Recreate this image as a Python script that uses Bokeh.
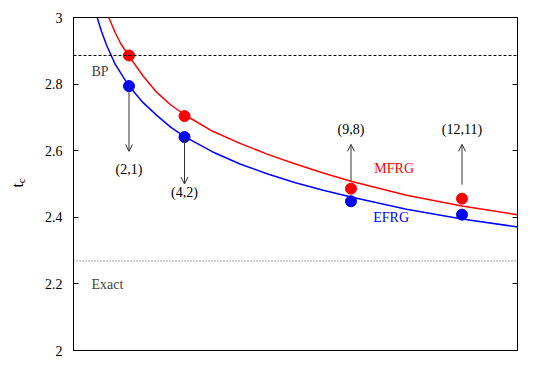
from bokeh.plotting import figure
from bokeh.layouts import row
from bokeh.models import (FixedTicker, LinearAxis, Label, Arrow, OpenHead, Span, Range1d)
from bokeh.embed import file_html
from bokeh.resources import INLINE
import math

# ---- data ----
cluster_x = [1, 2, 5, 7]
cluster_labels = ["(2,1)", "(4,2)", "(9,8)", "(12,11)"]
mfrg_tc = [2.886, 2.704, 2.486, 2.456]
efrg_tc = [2.794, 2.641, 2.448, 2.408]

# fitted curves
mfrg_fit_x = [0.636, 0.75, 0.85, 1.0, 1.25, 1.5, 1.75, 2.0, 2.5, 3.0, 3.5,
              4.0, 4.5, 5.0, 5.5, 6.0, 7.0, 8.0]
mfrg_fit_y = [3.000, 2.955, 2.922, 2.884, 2.825, 2.775, 2.738, 2.708, 2.659,
              2.622, 2.589, 2.560, 2.533, 2.508, 2.487, 2.466, 2.434, 2.408]
efrg_fit_x = [0.427, 0.5, 0.6, 0.75, 1.0, 1.25, 1.5, 1.75, 2.0, 2.5, 3.0, 3.5,
              4.0, 4.5, 5.0, 6.0, 7.0, 8.0]
efrg_fit_y = [3.000, 2.960, 2.915, 2.860, 2.794, 2.745, 2.706, 2.671, 2.642,
              2.597, 2.560, 2.530, 2.504, 2.481, 2.461, 2.424, 2.395, 2.371]

bp_tc = 2.886
exact_tc = 2.269
y_ticks = [2.0, 2.2, 2.4, 2.6, 2.8, 3.0]
y_tick_labels = ["2", "2.2", "2.4", "2.6", "2.8", "3"]

arrow_start = [2.790, 2.636, 2.509, 2.498]
arrow_end = [2.598, 2.500, 2.619, 2.619]
label_y = [2.545, 2.475, 2.664, 2.664]

FONT = "Liberation Serif"
H = 373
LW = 30

# ---- narrow panel carrying the rotated y title t_c ----
lab = figure(width=LW, height=H, x_range=Range1d(0, LW), y_range=Range1d(0, H),
             output_backend="svg", toolbar_location=None,
             x_axis_location=None, y_axis_location=None,
             min_border_left=0, min_border_right=0, min_border_top=0,
             min_border_bottom=0)
lab.outline_line_color = None
lab.grid.visible = False
lab.text(x=[17], y=[H - 188], text=["t"], angle=math.pi / 2, text_align="center",
         text_baseline="alphabetic", text_font={"value": FONT},
         text_font_size="16px", text_color="black")
lab.text(x=[20.5], y=[H - 183], text=["c"], angle=math.pi / 2, text_align="center",
         text_baseline="alphabetic", text_font={"value": FONT},
         text_font_size="11px", text_color="black")

# ---- main plot ----
p = figure(width=537 - LW, height=H, x_range=Range1d(0, 8), y_range=Range1d(2, 3),
           output_backend="svg", toolbar_location=None, x_axis_location=None,
           min_border_left=73 - LW, min_border_right=20, min_border_top=17,
           min_border_bottom=23)
p.grid.visible = False
p.outline_line_color = "black"
p.outline_line_width = 1
p.outline_line_alpha = 1

ax = p.yaxis[0]
ax.ticker = FixedTicker(ticks=y_ticks)
ax.major_label_overrides = {t: l for t, l in zip(y_ticks, y_tick_labels)}
ax.major_tick_in = 5
ax.major_tick_out = 0
ax.minor_tick_line_color = None
ax.major_label_standoff = 11
ax.major_label_text_font = FONT
ax.major_label_text_font_size = "14px"
ax.major_label_text_color = "black"
ax.axis_line_color = "black"

rax = LinearAxis(ticker=FixedTicker(ticks=y_ticks),
                 major_label_overrides={t: "" for t in y_ticks})
rax.major_tick_in = 5
rax.major_tick_out = 0
rax.minor_tick_line_color = None
rax.major_label_standoff = 0
rax.major_label_text_font_size = "1px"
p.add_layout(rax, "right")

# reference lines
p.add_layout(Span(location=bp_tc, dimension="width", line_color="black",
                  line_dash="3 2", line_width=1))
p.add_layout(Span(location=exact_tc, dimension="width", line_color="#444444",
                  line_dash="1 2", line_width=1))

# fit curves
p.line(mfrg_fit_x, mfrg_fit_y, line_color="#ff0000", line_width=1.5)
p.line(efrg_fit_x, efrg_fit_y, line_color="#0000ff", line_width=1.5)

# data points
p.scatter(cluster_x, mfrg_tc, size=11, fill_color="#ff0000", line_color="#ff0000")
p.scatter(cluster_x, efrg_tc, size=11, fill_color="#0000ff", line_color="#0000ff")

# arrows and cluster labels
for x, y0, y1, ly, txt in zip(cluster_x, arrow_start, arrow_end, label_y, cluster_labels):
    p.add_layout(Arrow(end=OpenHead(size=7, line_width=1, line_color="#333333"),
                       x_start=x, y_start=y0, x_end=x, y_end=y1,
                       line_color="#333333", line_width=1))
    p.add_layout(Label(x=x, y=ly, text=txt, text_align="center",
                       text_baseline="middle", text_font=FONT,
                       text_font_size="14px", text_color="black"))

p.add_layout(Label(x=0.324, y=2.838, text="BP", text_align="left",
                   text_baseline="middle", text_font=FONT, text_font_size="14px"))
p.add_layout(Label(x=0.324, y=2.198, text="Exact", text_align="left",
                   text_baseline="middle", text_font=FONT, text_font_size="14px"))
p.add_layout(Label(x=5.42, y=2.547, text="MFRG", text_align="left",
                   text_baseline="middle", text_font=FONT, text_font_size="14px",
                   text_color="#ff0000"))
p.add_layout(Label(x=5.40, y=2.398, text="EFRG", text_align="left",
                   text_baseline="middle", text_font=FONT, text_font_size="14px",
                   text_color="#0000ff"))

layout = row(lab, p, spacing=0)
open("out.html", "w").write(file_html(layout, INLINE))
